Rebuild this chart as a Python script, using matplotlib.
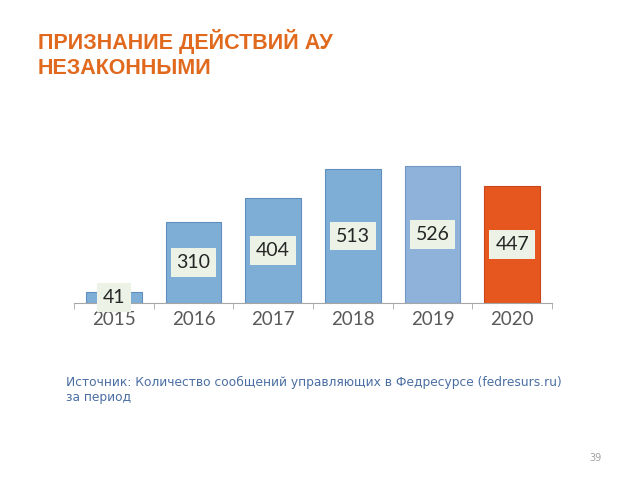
import matplotlib.pyplot as plt

# данные
years = ["2015", "2016", "2017", "2018", "2019", "2020"]
values = [41, 310, 404, 513, 526, 447]
colors = ["#7eaed6", "#7eaed6", "#7eaed6", "#7eaed6", "#8fb2da", "#e5571f"]
edges = ["#5f8fbf", "#5f8fbf", "#5f8fbf", "#5f8fbf", "#7397c4", "#c8461a"]

fig = plt.figure(figsize=(6.4, 4.8), dpi=100)
fig.patch.set_facecolor("white")

fig.text(38 / 640, 1 - 42 / 480, "ПРИЗНАНИЕ ДЕЙСТВИЙ АУ", color="#e0691e",
         fontsize=15.5, fontweight="bold", family="Liberation Sans", va="center")
fig.text(38 / 640, 1 - 68 / 480, "НЕЗАКОННЫМИ", color="#e0691e",
         fontsize=15.5, fontweight="bold", family="Liberation Sans", va="center")

ax = fig.add_axes([74 / 640, 1 - 303 / 480, 478 / 640, 156.6 / 480])
x = list(range(len(years)))
ax.bar(x, values, width=0.7, color=colors, edgecolor=edges, linewidth=0.8)
ax.set_xlim(-0.5, len(years) - 0.5)
ax.set_ylim(0, 600)

for xi, v in zip(x, values):
    ax.text(xi, v / 2, str(v), ha="center", va="center", fontsize=14,
            color="#262626", family="Lato",
            bbox=dict(boxstyle="square,pad=0.3", facecolor="#edf2e6",
                      edgecolor="none"))

for side in ["top", "right", "left"]:
    ax.spines[side].set_visible(False)
ax.spines["bottom"].set_color("#a6a6a6")
ax.set_yticks([])
ax.set_xticks(x)
ax.set_xticklabels(years, fontsize=13.5, color="#595959", family="Lato")
ax.tick_params(axis="x", which="major", length=0, pad=6)
ax.set_xticks([i - 0.5 for i in range(len(years) + 1)], minor=True)
ax.tick_params(axis="x", which="minor", length=4, color="#a6a6a6", direction="out")

fig.text(66 / 640, 1 - 382 / 480,
         "Источник: Количество сообщений управляющих в Федресурсе (fedresurs.ru)",
         color="#4a6ea3", fontsize=8.8, va="center", family="DejaVu Sans")
fig.text(66 / 640, 1 - 398 / 480, "за период",
         color="#4a6ea3", fontsize=8.8, va="center", family="DejaVu Sans")
fig.text(595 / 640, 1 - 458 / 480, "39", color="#a0a0a0", fontsize=7,
         ha="center", va="center")

fig.savefig("out.png", dpi=100)
plt.close(fig)
